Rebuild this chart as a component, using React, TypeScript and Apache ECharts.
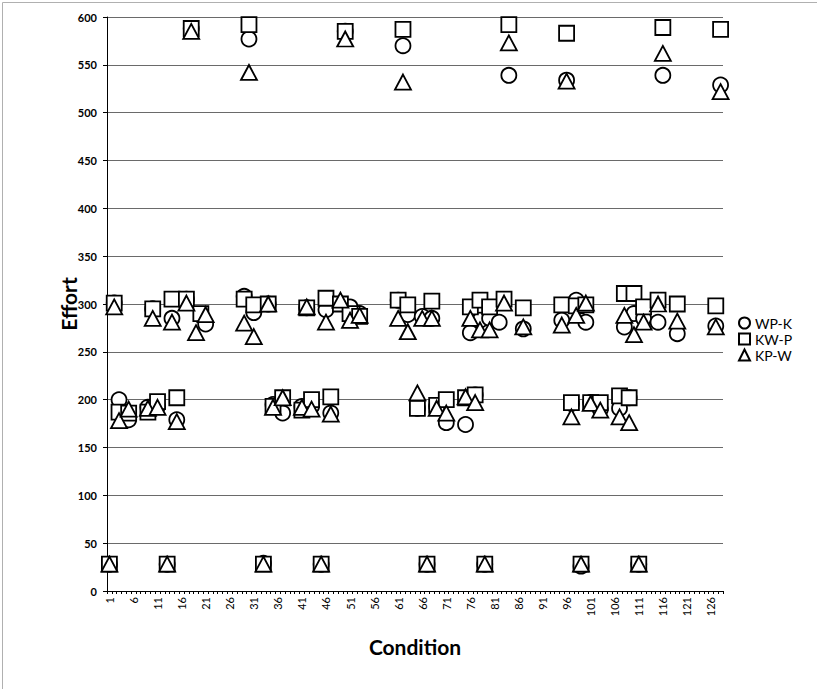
import React, { useEffect, useRef } from "react";
import * as echarts from "echarts";

const seriesNames = ["WP-K", "KW-P", "KP-W"];
const conditionLabels: string[] = [];
for (let i = 1; i <= 128; i++) conditionLabels.push(String(i));

const yTicks = { min: 0, max: 600, interval: 50 };

// WP-K (circles): [condition, effort]
const wpkPoints: [number, number][] = [
  [1, 28], [13, 28], [33, 29], [45, 28], [67, 28], [79, 28], [99, 26], [111, 28],
  [18, 588], [30, 577], [50, 585], [62, 570], [84, 539], [96, 534], [116, 539], [128, 529],
  [2, 301], [10, 295], [14, 285], [17, 305], [21, 279], [29, 308], [31, 291], [34, 300],
  [42, 296], [46, 294], [51, 297], [53, 290], [61, 304], [63, 289], [66, 287], [68, 285],
  [76, 270], [78, 283], [80, 285], [82, 281], [87, 274], [95, 283], [98, 304], [100, 281],
  [108, 276], [110, 290], [112, 285], [115, 281], [119, 269], [127, 277],
  [3, 200], [5, 179], [9, 192], [11, 193], [15, 179], [35, 195], [37, 186], [41, 193],
  [43, 193], [47, 186], [65, 191], [69, 193], [71, 176], [75, 174], [77, 205], [97, 196],
  [101, 197], [103, 190], [107, 191], [109, 202],
];

// KW-P (squares)
const kwpPoints: [number, number][] = [
  [1, 28], [13, 28], [33, 28], [45, 28], [67, 28], [79, 28], [99, 28], [111, 28],
  [18, 588], [30, 592], [50, 585], [62, 587], [84, 592], [96, 583], [116, 589], [128, 587],
  [2, 301], [10, 295], [14, 305], [17, 305], [20, 290], [29, 305], [31, 299], [34, 300],
  [42, 296], [46, 306], [49, 300], [51, 290], [53, 287], [61, 304], [63, 299], [68, 303],
  [76, 297], [78, 304], [80, 297], [83, 305], [87, 296], [95, 299], [98, 298], [100, 299],
  [108, 311], [110, 311], [112, 297], [115, 304], [119, 300], [127, 298],
  [3, 187], [5, 186], [9, 187], [11, 198], [15, 202], [35, 193], [37, 202], [41, 189],
  [43, 200], [47, 203], [65, 191], [69, 194], [71, 200], [75, 202], [77, 205], [97, 197],
  [101, 197], [103, 197], [107, 204], [109, 202],
];

// KP-W (triangles)
const kpwPoints: [number, number][] = [
  [1, 28], [13, 28], [33, 28], [45, 28], [67, 28], [79, 28], [99, 28], [111, 28],
  [18, 585], [30, 542], [50, 577], [62, 532], [84, 573], [96, 533], [116, 562], [128, 522],
  [2, 297], [10, 285], [14, 281], [17, 301], [19, 270], [21, 289], [29, 280], [31, 266],
  [34, 300], [42, 297], [46, 281], [49, 304], [51, 283], [53, 288], [61, 285], [63, 271],
  [66, 285], [68, 285], [76, 285], [78, 273], [80, 273], [83, 301], [87, 276], [95, 278],
  [98, 288], [100, 301], [108, 288], [110, 268], [112, 281], [115, 300], [119, 282], [127, 276],
  [3, 178], [5, 190], [9, 191], [11, 192], [15, 177], [35, 192], [37, 202], [41, 192],
  [43, 190], [47, 185], [65, 207], [69, 191], [71, 186], [75, 203], [77, 197], [97, 182],
  [101, 196], [103, 189], [107, 182], [109, 176],
];

const FONT = 'Lato, "Open Sans", "DejaVu Sans", sans-serif';

export default function App() {
  const ref = useRef<HTMLDivElement>(null);
  useEffect(() => {
    if (!ref.current) return;
    const chart = echarts.init(ref.current, null, { renderer: "svg" });
    const mk = (name: string, symbol: string, pts: [number, number][]) => ({
      name,
      type: "scatter",
      symbol,
      symbolSize: symbol === "triangle" ? [16, 15] : 15,
      data: pts.map(([c, v]) => [String(c), v]),
      itemStyle: { color: "#ffffff", borderColor: "#000000", borderWidth: 1.8, opacity: 1 },
      emphasis: { disabled: true },
    });
    chart.setOption({
      animation: false,
      backgroundColor: "#ffffff",
      textStyle: { fontFamily: FONT },
      graphic: [
        {
          type: "rect",
          shape: { x: 2.5, y: 2.5, width: 900, height: 900 },
          style: { fill: "none", stroke: "#b0b0b0", lineWidth: 1 },
          silent: true,
        },
      ],
      grid: { left: 107, right: 94, top: 17, bottom: 98, containLabel: false },
      legend: {
        orient: "vertical",
        left: 733,
        top: 311,
        itemWidth: 11,
        itemHeight: 11,
        itemGap: 2,
        textStyle: { fontSize: 14, color: "#000", fontFamily: FONT },
        data: seriesNames,
      },
      xAxis: {
        type: "category",
        data: conditionLabels,
        boundaryGap: true,
        name: "Condition",
        nameLocation: "middle",
        nameGap: 45,
        nameMoveOverlap: false,
        nameTextStyle: { fontSize: 21, fontWeight: "bold", color: "#000", fontFamily: FONT },
        axisLine: { show: true, lineStyle: { color: "#000", width: 1 } },
        axisTick: { show: true, interval: 0, length: 3, lineStyle: { color: "#000" } },
        axisLabel: { interval: 4, rotate: 90, fontSize: 11, color: "#000", margin: 6, fontFamily: FONT },
        splitLine: { show: false },
      },
      yAxis: {
        type: "value",
        min: yTicks.min,
        max: yTicks.max,
        interval: yTicks.interval,
        name: "Effort",
        nameLocation: "middle",
        nameGap: 28,
        nameMoveOverlap: false,
        nameTextStyle: { fontSize: 21, fontWeight: "bold", color: "#000", fontFamily: FONT },
        axisLine: { show: true, lineStyle: { color: "#000", width: 1 } },
        axisTick: { show: true, length: 4, lineStyle: { color: "#000" } },
        axisLabel: { fontSize: 11, color: "#000", margin: 10, fontWeight: "bold", fontFamily: FONT },
        splitLine: { show: true, lineStyle: { color: "#6a6a6a", width: 1 } },
      },
      series: [
        mk(seriesNames[0], "circle", wpkPoints),
        mk(seriesNames[1], "rect", kwpPoints),
        mk(seriesNames[2], "triangle", kpwPoints),
      ],
    });
    return () => chart.dispose();
  }, []);
  return (
    <div
      ref={ref}
      style={{ position: "absolute", left: 0, top: 0, width: 817, height: 689 }}
    />
  );
}
